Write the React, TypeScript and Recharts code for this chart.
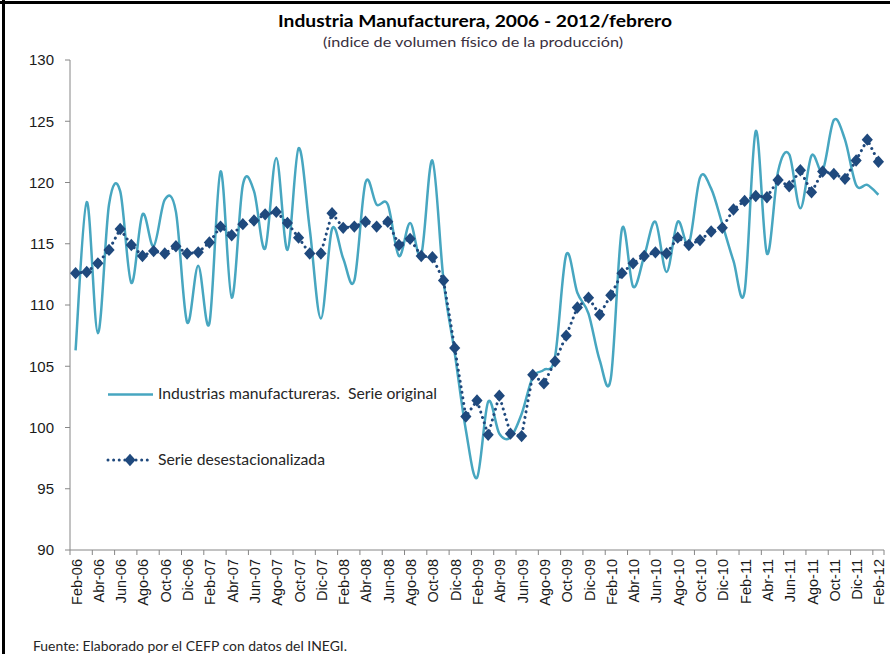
import React from 'react';
import { LineChart, Line, XAxis, YAxis } from 'recharts';

// ---- Data ----
const categorias: string[] = [
  'Feb-06', 'Mar-06', 'Abr-06', 'May-06', 'Jun-06', 'Jul-06', 'Ago-06', 'Sep-06', 'Oct-06', 'Nov-06', 'Dic-06',
  'Ene-07', 'Feb-07', 'Mar-07', 'Abr-07', 'May-07', 'Jun-07', 'Jul-07', 'Ago-07', 'Sep-07', 'Oct-07', 'Nov-07', 'Dic-07',
  'Ene-08', 'Feb-08', 'Mar-08', 'Abr-08', 'May-08', 'Jun-08', 'Jul-08', 'Ago-08', 'Sep-08', 'Oct-08', 'Nov-08', 'Dic-08',
  'Ene-09', 'Feb-09', 'Mar-09', 'Abr-09', 'May-09', 'Jun-09', 'Jul-09', 'Ago-09', 'Sep-09', 'Oct-09', 'Nov-09', 'Dic-09',
  'Ene-10', 'Feb-10', 'Mar-10', 'Abr-10', 'May-10', 'Jun-10', 'Jul-10', 'Ago-10', 'Sep-10', 'Oct-10', 'Nov-10', 'Dic-10',
  'Ene-11', 'Feb-11', 'Mar-11', 'Abr-11', 'May-11', 'Jun-11', 'Jul-11', 'Ago-11', 'Sep-11', 'Oct-11', 'Nov-11', 'Dic-11',
  'Ene-12', 'Feb-12',
];

const serieOriginal: number[] = [
  106.3, 118.4, 107.7, 118.2, 119.3, 111.8, 117.4, 114.8, 118.6, 117.6, 108.6,
  113.2, 108.5, 120.9, 110.6, 119.8, 119.3, 114.6, 122.0, 114.5, 122.8, 116.2, 108.9,
  116.2, 113.8, 112.0, 120.0, 118.2, 118.2, 114.0, 116.7, 114.1, 121.8, 112.0, 106.1,
  99.8, 95.9, 102.1, 99.5, 99.2, 101.1, 104.1, 104.7, 105.8, 114.1, 111.0, 109.3,
  105.5, 104.0, 116.2, 111.5, 114.0, 116.8, 112.7, 116.8, 115.0, 120.4, 119.5, 116.6,
  113.6, 111.1, 124.2, 114.2, 120.9, 122.3, 117.9, 122.2, 121.0, 125.1, 123.5, 119.8,
  119.8, 119.0,
];

const serieDesestacionalizada: number[] = [
  112.6, 112.7, 113.4, 114.5, 116.2, 114.9, 114.0, 114.4, 114.2, 114.8, 114.2,
  114.3, 115.1, 116.4, 115.7, 116.6, 116.9, 117.4, 117.6, 116.7, 115.5, 114.2, 114.2,
  117.5, 116.3, 116.4, 116.8, 116.4, 116.8, 114.9, 115.4, 114.0, 113.9, 112.0, 106.5,
  100.9, 102.2, 99.4, 102.6, 99.5, 99.3, 104.3, 103.6, 105.4, 107.5, 109.8, 110.6,
  109.2, 110.8, 112.6, 113.4, 114.0, 114.3, 114.2, 115.5, 114.9, 115.3, 116.0, 116.3,
  117.8, 118.5, 118.9, 118.8, 120.2, 119.7, 121.0, 119.2, 120.9, 120.7, 120.3, 121.8,
  123.5, 121.7,
];

const yTicks: number[] = [90, 95, 100, 105, 110, 115, 120, 125, 130];

const nombreOriginal = 'Industrias manufactureras.  Serie original';
const nombreDesest = 'Serie desestacionalizada';
const titulo = 'Industria Manufacturera, 2006 - 2012/febrero';
const subtitulo = '(índice de volumen físico de la producción)';
const fuente = 'Fuente: Elaborado por el CEFP con datos del INEGI.';

const rows = categorias.map((mes, idx) => ({
  idx,
  mes,
  orig: serieOriginal[idx],
  sa: serieDesestacionalizada[idx],
}));
const xTicks = categorias.map((_, i) => i).filter((i) => i % 2 === 0);

// ---- Styling ----
const W = 890;
const H = 654;
const M = { top: 60, right: 6, bottom: 0, left: 0 };
const Y_AXIS_W = 70;
const X_AXIS_H = 104;
const HALF_BAND = (W - M.right - Y_AXIS_W) / categorias.length / 2;
const TEAL = '#47A6C0';
const NAVY = '#1F497D';
const AXIS = '#868686';
const TICK_SIZE = 5;
const TICK_MARGIN = 3;
const TEXT_FONT = "Lato, 'Noto Sans', sans-serif";
const TICK_FONT = "'Liberation Sans', Arial, sans-serif";

// Excel-like smoothing (Catmull-Rom style cubic Bezier)
function excelCurve(context: any) {
  let pts: number[][] = [];
  return {
    areaStart() {},
    areaEnd() {},
    lineStart() {
      pts = [];
    },
    point(x: number, y: number) {
      pts.push([+x, +y]);
    },
    lineEnd() {
      const n = pts.length;
      if (!n) return;
      context.moveTo(pts[0][0], pts[0][1]);
      for (let i = 0; i < n - 1; i++) {
        const p0 = pts[Math.max(i - 1, 0)];
        const p1 = pts[i];
        const p2 = pts[i + 1];
        const p3 = pts[Math.min(i + 2, n - 1)];
        context.bezierCurveTo(
          p1[0] + (p2[0] - p0[0]) / 6,
          p1[1] + (p2[1] - p0[1]) / 6,
          p2[0] - (p3[0] - p1[0]) / 6,
          p2[1] - (p3[1] - p1[1]) / 6,
          p2[0],
          p2[1]
        );
      }
    },
  };
}

function Diamond(props: any) {
  const { cx, cy } = props;
  if (cx == null || cy == null) return null;
  const w = 5.6;
  const h = 6.2;
  return (
    <polygon
      points={`${cx},${cy - h} ${cx + w},${cy} ${cx},${cy + h} ${cx - w},${cy}`}
      fill={NAVY}
      stroke="none"
    />
  );
}

function XTick(props: any) {
  const { x, y, payload } = props;
  const axisY = y - TICK_SIZE - TICK_MARGIN;
  const label = categorias[payload.value];
  const isLast = payload.value === categorias.length - 1;
  const tx = x + 1;
  const ty = axisY + 9;
  return (
    <g>
      <line x1={x - HALF_BAND} x2={x - HALF_BAND} y1={axisY} y2={axisY + 5} stroke={AXIS} strokeWidth={1} />
      {isLast && (
        <line x1={x + HALF_BAND} x2={x + HALF_BAND} y1={axisY} y2={axisY + 5} stroke={AXIS} strokeWidth={1} />
      )}
      <text
        x={tx}
        y={ty}
        transform={`rotate(-90, ${tx}, ${ty})`}
        textAnchor="end"
        dominantBaseline="central"
        fontFamily={TICK_FONT}
        fontSize={14.5}
        fill="#1a1a1a"
      >
        {label}
      </text>
    </g>
  );
}

function LegendBox({ x, y }: { x: number; y: number }) {
  return (
    <g transform={`translate(${x}, ${y})`}>
      <line x1={8} x2={53} y1={19.5} y2={19.5} stroke={TEAL} strokeWidth={2.5} />
      <text
        x={58}
        y={24}
        fontFamily={TEXT_FONT}
        fontSize={15}
        fill="#262626"
        textLength={279}
        lengthAdjust="spacingAndGlyphs"
        style={{ whiteSpace: 'pre' }}
      >
        {nombreOriginal}
      </text>
      <line
        x1={8}
        x2={51}
        y1={85}
        y2={85}
        stroke={NAVY}
        strokeWidth={3}
        strokeDasharray="0.01 5.6"
        strokeLinecap="round"
      />
      <polygon points="30,78.8 35.6,85 30,91.2 24.4,85" fill={NAVY} />
      <text
        x={58}
        y={90}
        fontFamily={TEXT_FONT}
        fontSize={15}
        fill="#262626"
        textLength={167}
        lengthAdjust="spacingAndGlyphs"
      >
        {nombreDesest}
      </text>
    </g>
  );
}

export default function App() {
  return (
    <div
      style={{
        position: 'absolute',
        left: 0,
        top: 0,
        width: W,
        height: H,
        background: '#fff',
        overflow: 'hidden',
      }}
    >
      <LineChart width={W} height={H} data={rows} margin={M}>
        <XAxis
          dataKey="idx"
          type="number"
          domain={[-0.5, categorias.length - 0.5]}
          ticks={xTicks}
          interval={0}
          height={X_AXIS_H}
          stroke={AXIS}
          tickLine={false}
          tickSize={TICK_SIZE}
          tickMargin={TICK_MARGIN}
          tick={<XTick />}
        />
        <YAxis
          domain={[90, 130]}
          ticks={yTicks}
          interval={0}
          width={Y_AXIS_W}
          stroke={AXIS}
          tickSize={5}
          tickMargin={11}
          tick={{ fill: '#1a1a1a', fontSize: 15, fontFamily: TICK_FONT }}
        />
        <Line
          dataKey="orig"
          name={nombreOriginal}
          type={excelCurve as any}
          stroke={TEAL}
          strokeWidth={2.5}
          dot={false}
          activeDot={false}
          isAnimationActive={false}
        />
        <Line
          dataKey="sa"
          name={nombreDesest}
          type="linear"
          stroke={NAVY}
          strokeWidth={3}
          strokeDasharray="0.01 5.6"
          strokeLinecap="round"
          dot={<Diamond />}
          activeDot={false}
          isAnimationActive={false}
        />
      </LineChart>
      <svg
        width={W}
        height={H}
        style={{ position: 'absolute', left: 0, top: 0, pointerEvents: 'none' }}
      >
        <rect x={0} y={1} width={W} height={3} fill="#000" />
        <rect x={2} y={0} width={3} height={H} fill="#000" />
        <LegendBox x={100} y={375} />
        <text
          x={475}
          y={27}
          textAnchor="middle"
          fontFamily={TEXT_FONT}
          fontWeight="bold"
          fontSize={17.5}
          fill="#000"
          textLength={394}
          lengthAdjust="spacingAndGlyphs"
        >
          {titulo}
        </text>
        <text
          x={473}
          y={47}
          textAnchor="middle"
          fontFamily={TEXT_FONT}
          fontSize={14}
          fill="#3a3040"
          textLength={300}
          lengthAdjust="spacingAndGlyphs"
        >
          {subtitulo}
        </text>
        <text
          x={33}
          y={651}
          fontFamily={TEXT_FONT}
          fontSize={14}
          fill="#262626"
          textLength={314}
          lengthAdjust="spacingAndGlyphs"
        >
          {fuente}
        </text>
      </svg>
    </div>
  );
}
